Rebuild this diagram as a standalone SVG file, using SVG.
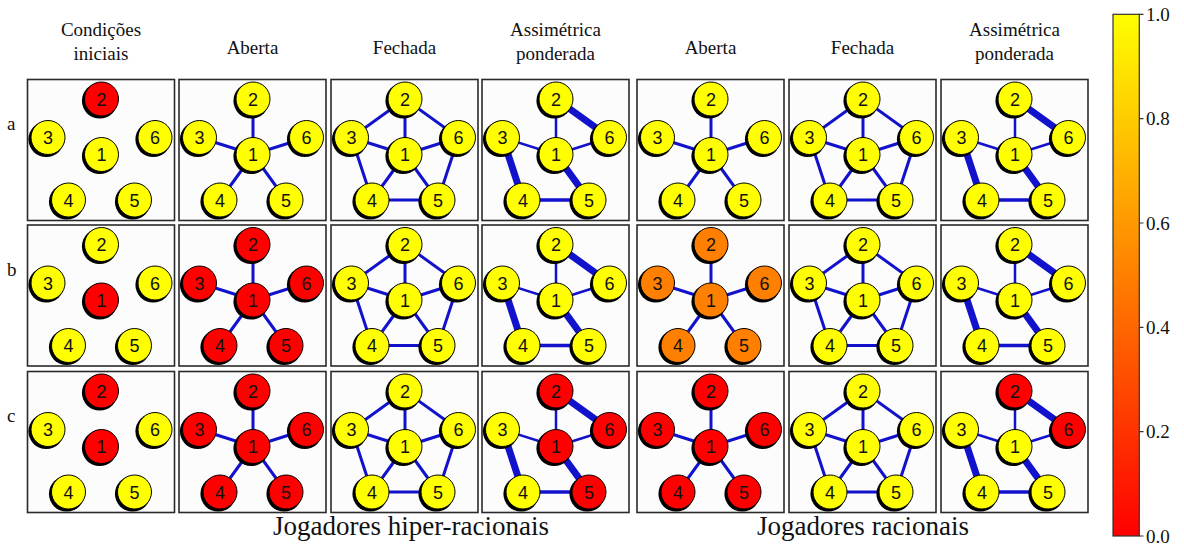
<svg xmlns="http://www.w3.org/2000/svg" xmlns:xlink="http://www.w3.org/1999/xlink" width="1184" height="545" viewBox="0 0 1184 545">
<style>
.bg{fill:#ffffff}
.frame{fill:#fcfcfc;stroke:#2a2a2a;stroke-width:1.6}
.e{fill:none;stroke:#1212cc;stroke-width:3;stroke-linecap:butt}
.e.thin{stroke-width:2.5}
.e.mid{stroke-width:3.5}
.e.thick{stroke-width:7}
.sh{fill:#000}
.y{fill:#ffff00;stroke:#000;stroke-width:1}
.r{fill:#ff0000;stroke:#000;stroke-width:1}
.o{fill:#ff7f00;stroke:#000;stroke-width:1}
.lbl{font-family:"Liberation Sans",Arial,sans-serif;font-size:18px;fill:#111;text-anchor:middle}
.hd{font-family:"Liberation Serif","Times New Roman",serif;font-size:19px;fill:#111;text-anchor:middle}
.row{font-family:"Liberation Serif","Times New Roman",serif;font-size:19px;fill:#111}
.big{font-family:"Liberation Serif","Times New Roman",serif;font-size:27px;fill:#111;text-anchor:middle}
.tick{font-family:"Liberation Serif","Times New Roman",serif;font-size:19px;fill:#111}
.cb{stroke:#333;stroke-width:1.2}
</style>
<defs>
<circle id="shadow" class="sh" cx="-1.8" cy="1.8" r="17.8"/>
<path id="star" d="M74 75L74 19.5M74 75L20.5 58M74 75L41 120.5M74 75L107 120.5M74 75L127.5 58"/>
<path id="ring" d="M74 19.5L20.5 58L41 120.5L107 120.5L127.5 58Z"/>
<linearGradient id="autumn" x1="0" y1="1" x2="0" y2="0">
<stop offset="0" stop-color="#ff0000"/>
<stop offset="1" stop-color="#ffff00"/>
</linearGradient>
</defs>
<rect class="bg" width="1184" height="545"/>

<!-- column headers -->
<g id="headers">
<text class="hd" x="101" y="36">Condições</text>
<text class="hd" x="101" y="60">iniciais</text>
<text class="hd" x="252.5" y="54">Aberta</text>
<text class="hd" x="404.5" y="54">Fechada</text>
<text class="hd" x="555.5" y="36">Assimétrica</text>
<text class="hd" x="555.5" y="60">ponderada</text>
<text class="hd" x="710.5" y="54">Aberta</text>
<text class="hd" x="862.5" y="54">Fechada</text>
<text class="hd" x="1014.5" y="36">Assimétrica</text>
<text class="hd" x="1014.5" y="60">ponderada</text>
</g>
<g id="row-labels">
<text class="row" x="7" y="130">a</text>
<text class="row" x="7" y="276">b</text>
<text class="row" x="7" y="422">c</text>
</g>

<!-- ===== row a ===== -->
<g id="a1" transform="translate(27.5,79.5)">
<rect class="frame" width="147" height="141"/>
<g id="a1n2" transform="translate(74,19.5)"><use href="#shadow"/><circle class="r" r="17"/><text class="lbl" y="6.5">2</text></g>
<g id="a1n3" transform="translate(20.5,58)"><use href="#shadow"/><circle class="y" r="17"/><text class="lbl" y="6.5">3</text></g>
<g id="a1n1" transform="translate(74,75)"><use href="#shadow"/><circle class="y" r="17"/><text class="lbl" y="6.5">1</text></g>
<g id="a1n6" transform="translate(127.5,58)"><use href="#shadow"/><circle class="y" r="17"/><text class="lbl" y="6.5">6</text></g>
<g id="a1n4" transform="translate(41,120.5)"><use href="#shadow"/><circle class="y" r="17"/><text class="lbl" y="6.5">4</text></g>
<g id="a1n5" transform="translate(107,120.5)"><use href="#shadow"/><circle class="y" r="17"/><text class="lbl" y="6.5">5</text></g>
</g>

<g id="a2" transform="translate(179,79.5)">
<rect class="frame" width="147" height="141"/>
<g class="connectors"><use href="#star" class="e"/></g>
<g id="a2n2" transform="translate(74,19.5)"><use href="#shadow"/><circle class="y" r="17"/><text class="lbl" y="6.5">2</text></g>
<g id="a2n3" transform="translate(20.5,58)"><use href="#shadow"/><circle class="y" r="17"/><text class="lbl" y="6.5">3</text></g>
<g id="a2n1" transform="translate(74,75)"><use href="#shadow"/><circle class="y" r="17"/><text class="lbl" y="6.5">1</text></g>
<g id="a2n6" transform="translate(127.5,58)"><use href="#shadow"/><circle class="y" r="17"/><text class="lbl" y="6.5">6</text></g>
<g id="a2n4" transform="translate(41,120.5)"><use href="#shadow"/><circle class="y" r="17"/><text class="lbl" y="6.5">4</text></g>
<g id="a2n5" transform="translate(107,120.5)"><use href="#shadow"/><circle class="y" r="17"/><text class="lbl" y="6.5">5</text></g>
</g>

<g id="a3" transform="translate(331,79.5)">
<rect class="frame" width="147" height="141"/>
<g class="connectors"><use href="#star" class="e"/><use href="#ring" class="e"/></g>
<g id="a3n2" transform="translate(74,19.5)"><use href="#shadow"/><circle class="y" r="17"/><text class="lbl" y="6.5">2</text></g>
<g id="a3n3" transform="translate(20.5,58)"><use href="#shadow"/><circle class="y" r="17"/><text class="lbl" y="6.5">3</text></g>
<g id="a3n1" transform="translate(74,75)"><use href="#shadow"/><circle class="y" r="17"/><text class="lbl" y="6.5">1</text></g>
<g id="a3n6" transform="translate(127.5,58)"><use href="#shadow"/><circle class="y" r="17"/><text class="lbl" y="6.5">6</text></g>
<g id="a3n4" transform="translate(41,120.5)"><use href="#shadow"/><circle class="y" r="17"/><text class="lbl" y="6.5">4</text></g>
<g id="a3n5" transform="translate(107,120.5)"><use href="#shadow"/><circle class="y" r="17"/><text class="lbl" y="6.5">5</text></g>
</g>

<g id="a4" transform="translate(482,79.5)">
<rect class="frame" width="147" height="141"/>
<g class="connectors">
<path class="e thin" d="M74 75L74 19.5M74 75L20.5 58M74 75L127.5 58"/>
<path class="e thick" d="M74 19.5L127.5 58M20.5 58L41 120.5M74 75L107 120.5"/>
<path class="e mid" d="M41 120.5L107 120.5"/>
</g>
<g id="a4n2" transform="translate(74,19.5)"><use href="#shadow"/><circle class="y" r="17"/><text class="lbl" y="6.5">2</text></g>
<g id="a4n3" transform="translate(20.5,58)"><use href="#shadow"/><circle class="y" r="17"/><text class="lbl" y="6.5">3</text></g>
<g id="a4n1" transform="translate(74,75)"><use href="#shadow"/><circle class="y" r="17"/><text class="lbl" y="6.5">1</text></g>
<g id="a4n6" transform="translate(127.5,58)"><use href="#shadow"/><circle class="y" r="17"/><text class="lbl" y="6.5">6</text></g>
<g id="a4n4" transform="translate(41,120.5)"><use href="#shadow"/><circle class="y" r="17"/><text class="lbl" y="6.5">4</text></g>
<g id="a4n5" transform="translate(107,120.5)"><use href="#shadow"/><circle class="y" r="17"/><text class="lbl" y="6.5">5</text></g>
</g>

<g id="a5" transform="translate(637,79.5)">
<rect class="frame" width="147" height="141"/>
<g class="connectors"><use href="#star" class="e"/></g>
<g id="a5n2" transform="translate(74,19.5)"><use href="#shadow"/><circle class="y" r="17"/><text class="lbl" y="6.5">2</text></g>
<g id="a5n3" transform="translate(20.5,58)"><use href="#shadow"/><circle class="y" r="17"/><text class="lbl" y="6.5">3</text></g>
<g id="a5n1" transform="translate(74,75)"><use href="#shadow"/><circle class="y" r="17"/><text class="lbl" y="6.5">1</text></g>
<g id="a5n6" transform="translate(127.5,58)"><use href="#shadow"/><circle class="y" r="17"/><text class="lbl" y="6.5">6</text></g>
<g id="a5n4" transform="translate(41,120.5)"><use href="#shadow"/><circle class="y" r="17"/><text class="lbl" y="6.5">4</text></g>
<g id="a5n5" transform="translate(107,120.5)"><use href="#shadow"/><circle class="y" r="17"/><text class="lbl" y="6.5">5</text></g>
</g>

<g id="a6" transform="translate(789,79.5)">
<rect class="frame" width="147" height="141"/>
<g class="connectors"><use href="#star" class="e"/><use href="#ring" class="e"/></g>
<g id="a6n2" transform="translate(74,19.5)"><use href="#shadow"/><circle class="y" r="17"/><text class="lbl" y="6.5">2</text></g>
<g id="a6n3" transform="translate(20.5,58)"><use href="#shadow"/><circle class="y" r="17"/><text class="lbl" y="6.5">3</text></g>
<g id="a6n1" transform="translate(74,75)"><use href="#shadow"/><circle class="y" r="17"/><text class="lbl" y="6.5">1</text></g>
<g id="a6n6" transform="translate(127.5,58)"><use href="#shadow"/><circle class="y" r="17"/><text class="lbl" y="6.5">6</text></g>
<g id="a6n4" transform="translate(41,120.5)"><use href="#shadow"/><circle class="y" r="17"/><text class="lbl" y="6.5">4</text></g>
<g id="a6n5" transform="translate(107,120.5)"><use href="#shadow"/><circle class="y" r="17"/><text class="lbl" y="6.5">5</text></g>
</g>

<g id="a7" transform="translate(941,79.5)">
<rect class="frame" width="147" height="141"/>
<g class="connectors">
<path class="e thin" d="M74 75L74 19.5M74 75L20.5 58M74 75L127.5 58"/>
<path class="e thick" d="M74 19.5L127.5 58M20.5 58L41 120.5M74 75L107 120.5"/>
<path class="e mid" d="M41 120.5L107 120.5"/>
</g>
<g id="a7n2" transform="translate(74,19.5)"><use href="#shadow"/><circle class="y" r="17"/><text class="lbl" y="6.5">2</text></g>
<g id="a7n3" transform="translate(20.5,58)"><use href="#shadow"/><circle class="y" r="17"/><text class="lbl" y="6.5">3</text></g>
<g id="a7n1" transform="translate(74,75)"><use href="#shadow"/><circle class="y" r="17"/><text class="lbl" y="6.5">1</text></g>
<g id="a7n6" transform="translate(127.5,58)"><use href="#shadow"/><circle class="y" r="17"/><text class="lbl" y="6.5">6</text></g>
<g id="a7n4" transform="translate(41,120.5)"><use href="#shadow"/><circle class="y" r="17"/><text class="lbl" y="6.5">4</text></g>
<g id="a7n5" transform="translate(107,120.5)"><use href="#shadow"/><circle class="y" r="17"/><text class="lbl" y="6.5">5</text></g>
</g>

<!-- ===== row b ===== -->
<g id="b1" transform="translate(27.5,225)">
<rect class="frame" width="147" height="141"/>
<g id="b1n2" transform="translate(74,19.5)"><use href="#shadow"/><circle class="y" r="17"/><text class="lbl" y="6.5">2</text></g>
<g id="b1n3" transform="translate(20.5,58)"><use href="#shadow"/><circle class="y" r="17"/><text class="lbl" y="6.5">3</text></g>
<g id="b1n1" transform="translate(74,75)"><use href="#shadow"/><circle class="r" r="17"/><text class="lbl" y="6.5">1</text></g>
<g id="b1n6" transform="translate(127.5,58)"><use href="#shadow"/><circle class="y" r="17"/><text class="lbl" y="6.5">6</text></g>
<g id="b1n4" transform="translate(41,120.5)"><use href="#shadow"/><circle class="y" r="17"/><text class="lbl" y="6.5">4</text></g>
<g id="b1n5" transform="translate(107,120.5)"><use href="#shadow"/><circle class="y" r="17"/><text class="lbl" y="6.5">5</text></g>
</g>

<g id="b2" transform="translate(179,225)">
<rect class="frame" width="147" height="141"/>
<g class="connectors"><use href="#star" class="e"/></g>
<g id="b2n2" transform="translate(74,19.5)"><use href="#shadow"/><circle class="r" r="17"/><text class="lbl" y="6.5">2</text></g>
<g id="b2n3" transform="translate(20.5,58)"><use href="#shadow"/><circle class="r" r="17"/><text class="lbl" y="6.5">3</text></g>
<g id="b2n1" transform="translate(74,75)"><use href="#shadow"/><circle class="r" r="17"/><text class="lbl" y="6.5">1</text></g>
<g id="b2n6" transform="translate(127.5,58)"><use href="#shadow"/><circle class="r" r="17"/><text class="lbl" y="6.5">6</text></g>
<g id="b2n4" transform="translate(41,120.5)"><use href="#shadow"/><circle class="r" r="17"/><text class="lbl" y="6.5">4</text></g>
<g id="b2n5" transform="translate(107,120.5)"><use href="#shadow"/><circle class="r" r="17"/><text class="lbl" y="6.5">5</text></g>
</g>

<g id="b3" transform="translate(331,225)">
<rect class="frame" width="147" height="141"/>
<g class="connectors"><use href="#star" class="e"/><use href="#ring" class="e"/></g>
<g id="b3n2" transform="translate(74,19.5)"><use href="#shadow"/><circle class="y" r="17"/><text class="lbl" y="6.5">2</text></g>
<g id="b3n3" transform="translate(20.5,58)"><use href="#shadow"/><circle class="y" r="17"/><text class="lbl" y="6.5">3</text></g>
<g id="b3n1" transform="translate(74,75)"><use href="#shadow"/><circle class="y" r="17"/><text class="lbl" y="6.5">1</text></g>
<g id="b3n6" transform="translate(127.5,58)"><use href="#shadow"/><circle class="y" r="17"/><text class="lbl" y="6.5">6</text></g>
<g id="b3n4" transform="translate(41,120.5)"><use href="#shadow"/><circle class="y" r="17"/><text class="lbl" y="6.5">4</text></g>
<g id="b3n5" transform="translate(107,120.5)"><use href="#shadow"/><circle class="y" r="17"/><text class="lbl" y="6.5">5</text></g>
</g>

<g id="b4" transform="translate(482,225)">
<rect class="frame" width="147" height="141"/>
<g class="connectors">
<path class="e thin" d="M74 75L74 19.5M74 75L20.5 58M74 75L127.5 58"/>
<path class="e thick" d="M74 19.5L127.5 58M20.5 58L41 120.5M74 75L107 120.5"/>
<path class="e mid" d="M41 120.5L107 120.5"/>
</g>
<g id="b4n2" transform="translate(74,19.5)"><use href="#shadow"/><circle class="y" r="17"/><text class="lbl" y="6.5">2</text></g>
<g id="b4n3" transform="translate(20.5,58)"><use href="#shadow"/><circle class="y" r="17"/><text class="lbl" y="6.5">3</text></g>
<g id="b4n1" transform="translate(74,75)"><use href="#shadow"/><circle class="y" r="17"/><text class="lbl" y="6.5">1</text></g>
<g id="b4n6" transform="translate(127.5,58)"><use href="#shadow"/><circle class="y" r="17"/><text class="lbl" y="6.5">6</text></g>
<g id="b4n4" transform="translate(41,120.5)"><use href="#shadow"/><circle class="y" r="17"/><text class="lbl" y="6.5">4</text></g>
<g id="b4n5" transform="translate(107,120.5)"><use href="#shadow"/><circle class="y" r="17"/><text class="lbl" y="6.5">5</text></g>
</g>

<g id="b5" transform="translate(637,225)">
<rect class="frame" width="147" height="141"/>
<g class="connectors"><use href="#star" class="e"/></g>
<g id="b5n2" transform="translate(74,19.5)"><use href="#shadow"/><circle class="o" r="17"/><text class="lbl" y="6.5">2</text></g>
<g id="b5n3" transform="translate(20.5,58)"><use href="#shadow"/><circle class="o" r="17"/><text class="lbl" y="6.5">3</text></g>
<g id="b5n1" transform="translate(74,75)"><use href="#shadow"/><circle class="o" r="17"/><text class="lbl" y="6.5">1</text></g>
<g id="b5n6" transform="translate(127.5,58)"><use href="#shadow"/><circle class="o" r="17"/><text class="lbl" y="6.5">6</text></g>
<g id="b5n4" transform="translate(41,120.5)"><use href="#shadow"/><circle class="o" r="17"/><text class="lbl" y="6.5">4</text></g>
<g id="b5n5" transform="translate(107,120.5)"><use href="#shadow"/><circle class="o" r="17"/><text class="lbl" y="6.5">5</text></g>
</g>

<g id="b6" transform="translate(789,225)">
<rect class="frame" width="147" height="141"/>
<g class="connectors"><use href="#star" class="e"/><use href="#ring" class="e"/></g>
<g id="b6n2" transform="translate(74,19.5)"><use href="#shadow"/><circle class="y" r="17"/><text class="lbl" y="6.5">2</text></g>
<g id="b6n3" transform="translate(20.5,58)"><use href="#shadow"/><circle class="y" r="17"/><text class="lbl" y="6.5">3</text></g>
<g id="b6n1" transform="translate(74,75)"><use href="#shadow"/><circle class="y" r="17"/><text class="lbl" y="6.5">1</text></g>
<g id="b6n6" transform="translate(127.5,58)"><use href="#shadow"/><circle class="y" r="17"/><text class="lbl" y="6.5">6</text></g>
<g id="b6n4" transform="translate(41,120.5)"><use href="#shadow"/><circle class="y" r="17"/><text class="lbl" y="6.5">4</text></g>
<g id="b6n5" transform="translate(107,120.5)"><use href="#shadow"/><circle class="y" r="17"/><text class="lbl" y="6.5">5</text></g>
</g>

<g id="b7" transform="translate(941,225)">
<rect class="frame" width="147" height="141"/>
<g class="connectors">
<path class="e thin" d="M74 75L74 19.5M74 75L20.5 58M74 75L127.5 58"/>
<path class="e thick" d="M74 19.5L127.5 58M20.5 58L41 120.5M74 75L107 120.5"/>
<path class="e mid" d="M41 120.5L107 120.5"/>
</g>
<g id="b7n2" transform="translate(74,19.5)"><use href="#shadow"/><circle class="y" r="17"/><text class="lbl" y="6.5">2</text></g>
<g id="b7n3" transform="translate(20.5,58)"><use href="#shadow"/><circle class="y" r="17"/><text class="lbl" y="6.5">3</text></g>
<g id="b7n1" transform="translate(74,75)"><use href="#shadow"/><circle class="y" r="17"/><text class="lbl" y="6.5">1</text></g>
<g id="b7n6" transform="translate(127.5,58)"><use href="#shadow"/><circle class="y" r="17"/><text class="lbl" y="6.5">6</text></g>
<g id="b7n4" transform="translate(41,120.5)"><use href="#shadow"/><circle class="y" r="17"/><text class="lbl" y="6.5">4</text></g>
<g id="b7n5" transform="translate(107,120.5)"><use href="#shadow"/><circle class="y" r="17"/><text class="lbl" y="6.5">5</text></g>
</g>

<!-- ===== row c ===== -->
<g id="c1" transform="translate(27.5,371.5)">
<rect class="frame" width="147" height="141"/>
<g id="c1n2" transform="translate(74,19.5)"><use href="#shadow"/><circle class="r" r="17"/><text class="lbl" y="6.5">2</text></g>
<g id="c1n3" transform="translate(20.5,58)"><use href="#shadow"/><circle class="y" r="17"/><text class="lbl" y="6.5">3</text></g>
<g id="c1n1" transform="translate(74,75)"><use href="#shadow"/><circle class="r" r="17"/><text class="lbl" y="6.5">1</text></g>
<g id="c1n6" transform="translate(127.5,58)"><use href="#shadow"/><circle class="y" r="17"/><text class="lbl" y="6.5">6</text></g>
<g id="c1n4" transform="translate(41,120.5)"><use href="#shadow"/><circle class="y" r="17"/><text class="lbl" y="6.5">4</text></g>
<g id="c1n5" transform="translate(107,120.5)"><use href="#shadow"/><circle class="y" r="17"/><text class="lbl" y="6.5">5</text></g>
</g>

<g id="c2" transform="translate(179,371.5)">
<rect class="frame" width="147" height="141"/>
<g class="connectors"><use href="#star" class="e"/></g>
<g id="c2n2" transform="translate(74,19.5)"><use href="#shadow"/><circle class="r" r="17"/><text class="lbl" y="6.5">2</text></g>
<g id="c2n3" transform="translate(20.5,58)"><use href="#shadow"/><circle class="r" r="17"/><text class="lbl" y="6.5">3</text></g>
<g id="c2n1" transform="translate(74,75)"><use href="#shadow"/><circle class="r" r="17"/><text class="lbl" y="6.5">1</text></g>
<g id="c2n6" transform="translate(127.5,58)"><use href="#shadow"/><circle class="r" r="17"/><text class="lbl" y="6.5">6</text></g>
<g id="c2n4" transform="translate(41,120.5)"><use href="#shadow"/><circle class="r" r="17"/><text class="lbl" y="6.5">4</text></g>
<g id="c2n5" transform="translate(107,120.5)"><use href="#shadow"/><circle class="r" r="17"/><text class="lbl" y="6.5">5</text></g>
</g>

<g id="c3" transform="translate(331,371.5)">
<rect class="frame" width="147" height="141"/>
<g class="connectors"><use href="#star" class="e"/><use href="#ring" class="e"/></g>
<g id="c3n2" transform="translate(74,19.5)"><use href="#shadow"/><circle class="y" r="17"/><text class="lbl" y="6.5">2</text></g>
<g id="c3n3" transform="translate(20.5,58)"><use href="#shadow"/><circle class="y" r="17"/><text class="lbl" y="6.5">3</text></g>
<g id="c3n1" transform="translate(74,75)"><use href="#shadow"/><circle class="y" r="17"/><text class="lbl" y="6.5">1</text></g>
<g id="c3n6" transform="translate(127.5,58)"><use href="#shadow"/><circle class="y" r="17"/><text class="lbl" y="6.5">6</text></g>
<g id="c3n4" transform="translate(41,120.5)"><use href="#shadow"/><circle class="y" r="17"/><text class="lbl" y="6.5">4</text></g>
<g id="c3n5" transform="translate(107,120.5)"><use href="#shadow"/><circle class="y" r="17"/><text class="lbl" y="6.5">5</text></g>
</g>

<g id="c4" transform="translate(482,371.5)">
<rect class="frame" width="147" height="141"/>
<g class="connectors">
<path class="e thin" d="M74 75L74 19.5M74 75L20.5 58M74 75L127.5 58"/>
<path class="e thick" d="M74 19.5L127.5 58M20.5 58L41 120.5M74 75L107 120.5"/>
<path class="e mid" d="M41 120.5L107 120.5"/>
</g>
<g id="c4n2" transform="translate(74,19.5)"><use href="#shadow"/><circle class="r" r="17"/><text class="lbl" y="6.5">2</text></g>
<g id="c4n3" transform="translate(20.5,58)"><use href="#shadow"/><circle class="y" r="17"/><text class="lbl" y="6.5">3</text></g>
<g id="c4n1" transform="translate(74,75)"><use href="#shadow"/><circle class="r" r="17"/><text class="lbl" y="6.5">1</text></g>
<g id="c4n6" transform="translate(127.5,58)"><use href="#shadow"/><circle class="r" r="17"/><text class="lbl" y="6.5">6</text></g>
<g id="c4n4" transform="translate(41,120.5)"><use href="#shadow"/><circle class="y" r="17"/><text class="lbl" y="6.5">4</text></g>
<g id="c4n5" transform="translate(107,120.5)"><use href="#shadow"/><circle class="r" r="17"/><text class="lbl" y="6.5">5</text></g>
</g>

<g id="c5" transform="translate(637,371.5)">
<rect class="frame" width="147" height="141"/>
<g class="connectors"><use href="#star" class="e"/></g>
<g id="c5n2" transform="translate(74,19.5)"><use href="#shadow"/><circle class="r" r="17"/><text class="lbl" y="6.5">2</text></g>
<g id="c5n3" transform="translate(20.5,58)"><use href="#shadow"/><circle class="r" r="17"/><text class="lbl" y="6.5">3</text></g>
<g id="c5n1" transform="translate(74,75)"><use href="#shadow"/><circle class="r" r="17"/><text class="lbl" y="6.5">1</text></g>
<g id="c5n6" transform="translate(127.5,58)"><use href="#shadow"/><circle class="r" r="17"/><text class="lbl" y="6.5">6</text></g>
<g id="c5n4" transform="translate(41,120.5)"><use href="#shadow"/><circle class="r" r="17"/><text class="lbl" y="6.5">4</text></g>
<g id="c5n5" transform="translate(107,120.5)"><use href="#shadow"/><circle class="r" r="17"/><text class="lbl" y="6.5">5</text></g>
</g>

<g id="c6" transform="translate(789,371.5)">
<rect class="frame" width="147" height="141"/>
<g class="connectors"><use href="#star" class="e"/><use href="#ring" class="e"/></g>
<g id="c6n2" transform="translate(74,19.5)"><use href="#shadow"/><circle class="y" r="17"/><text class="lbl" y="6.5">2</text></g>
<g id="c6n3" transform="translate(20.5,58)"><use href="#shadow"/><circle class="y" r="17"/><text class="lbl" y="6.5">3</text></g>
<g id="c6n1" transform="translate(74,75)"><use href="#shadow"/><circle class="y" r="17"/><text class="lbl" y="6.5">1</text></g>
<g id="c6n6" transform="translate(127.5,58)"><use href="#shadow"/><circle class="y" r="17"/><text class="lbl" y="6.5">6</text></g>
<g id="c6n4" transform="translate(41,120.5)"><use href="#shadow"/><circle class="y" r="17"/><text class="lbl" y="6.5">4</text></g>
<g id="c6n5" transform="translate(107,120.5)"><use href="#shadow"/><circle class="y" r="17"/><text class="lbl" y="6.5">5</text></g>
</g>

<g id="c7" transform="translate(941,371.5)">
<rect class="frame" width="147" height="141"/>
<g class="connectors">
<path class="e thin" d="M74 75L74 19.5M74 75L20.5 58M74 75L127.5 58"/>
<path class="e thick" d="M74 19.5L127.5 58M20.5 58L41 120.5M74 75L107 120.5"/>
<path class="e mid" d="M41 120.5L107 120.5"/>
</g>
<g id="c7n2" transform="translate(74,19.5)"><use href="#shadow"/><circle class="r" r="17"/><text class="lbl" y="6.5">2</text></g>
<g id="c7n3" transform="translate(20.5,58)"><use href="#shadow"/><circle class="y" r="17"/><text class="lbl" y="6.5">3</text></g>
<g id="c7n1" transform="translate(74,75)"><use href="#shadow"/><circle class="y" r="17"/><text class="lbl" y="6.5">1</text></g>
<g id="c7n6" transform="translate(127.5,58)"><use href="#shadow"/><circle class="r" r="17"/><text class="lbl" y="6.5">6</text></g>
<g id="c7n4" transform="translate(41,120.5)"><use href="#shadow"/><circle class="y" r="17"/><text class="lbl" y="6.5">4</text></g>
<g id="c7n5" transform="translate(107,120.5)"><use href="#shadow"/><circle class="y" r="17"/><text class="lbl" y="6.5">5</text></g>
</g>

<!-- group captions -->
<text class="big" x="411" y="535">Jogadores hiper-racionais</text>
<text class="big" x="863" y="535">Jogadores racionais</text>

<!-- colour scale -->
<g id="colorbar">
<rect class="cb" x="1113" y="14.3" width="26.3" height="521.7" fill="url(#autumn)"/>
<path class="cb" d="M1139.3 14.3H1143.5M1139.3 118.6H1143.5M1139.3 223H1143.5M1139.3 327.3H1143.5M1139.3 431.7H1143.5M1139.3 536H1143.5"/>
<text class="tick" x="1146" y="21">1.0</text>
<text class="tick" x="1146" y="125">0.8</text>
<text class="tick" x="1146" y="229.5">0.6</text>
<text class="tick" x="1146" y="334">0.4</text>
<text class="tick" x="1146" y="438">0.2</text>
<text class="tick" x="1146" y="542.5">0.0</text>
</g>
</svg>
